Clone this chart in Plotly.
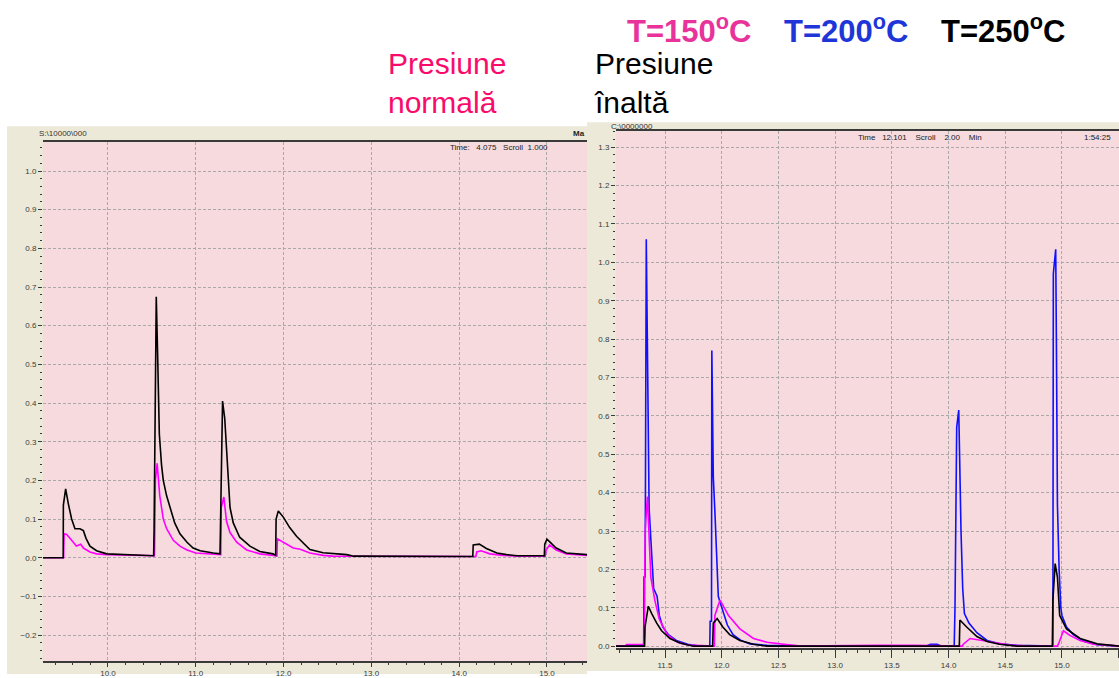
import plotly.graph_objects as go

W, H = 1119, 678

# ---- Presiune normală (left chromatogram): (time [min], signal) ----
normal_150 = [
    (9.26, 0), (9.495, 0), (9.5, 0.062), (9.53, 0.06), (9.586, 0.045), (9.64, 0.03),
    (9.69, 0.035), (9.72, 0.025), (9.795, 0.015), (9.87, 0.01), (9.985, 0.008),
    (10.3, 0.006), (10.53, 0.005), (10.54, 0.2), (10.56, 0.244), (10.59, 0.16),
    (10.63, 0.1), (10.668, 0.075), (10.744, 0.045), (10.82, 0.03), (10.9, 0.02),
    (11.0, 0.012), (11.2, 0.008), (11.285, 0.008), (11.29, 0.13), (11.32, 0.157),
    (11.35, 0.094), (11.39, 0.065), (11.466, 0.04), (11.58, 0.02), (11.73, 0.01),
    (11.88, 0.006), (11.925, 0.005), (11.93, 0.049), (11.997, 0.04), (12.11, 0.025),
    (12.19, 0.022), (12.3, 0.012), (12.45, 0.006), (12.56, 0.004), (14.19, 0.003),
    (14.2, 0.015), (14.25, 0.018), (14.35, 0.01), (14.5, 0.006), (14.66, 0.004),
    (14.98, 0.004), (14.99, 0.02), (15.03, 0.033), (15.105, 0.02), (15.22, 0.01),
    (15.375, 0.007), (15.456, 0.006),
]
normal_250 = [
    (9.26, 0), (9.49, 0), (9.492, 0.136), (9.518, 0.178), (9.548, 0.14), (9.586, 0.1),
    (9.624, 0.075), (9.68, 0.075), (9.72, 0.07), (9.75, 0.05), (9.795, 0.03),
    (9.87, 0.018), (9.985, 0.01), (10.2, 0.008), (10.4, 0.006), (10.52, 0.005),
    (10.525, 0.07), (10.55, 0.675), (10.565, 0.53), (10.585, 0.32), (10.61, 0.24),
    (10.63, 0.2), (10.668, 0.16), (10.706, 0.13), (10.76, 0.09), (10.82, 0.062),
    (10.9, 0.04), (10.97, 0.025), (11.05, 0.018), (11.2, 0.012), (11.276, 0.01),
    (11.28, 0.06), (11.305, 0.405), (11.33, 0.36), (11.355, 0.25), (11.37, 0.18),
    (11.39, 0.13), (11.427, 0.09), (11.5, 0.053), (11.617, 0.03), (11.73, 0.016),
    (11.88, 0.01), (11.91, 0.006), (11.915, 0.1), (11.94, 0.121), (11.997, 0.105),
    (12.07, 0.078), (12.15, 0.055), (12.19, 0.046), (12.3, 0.021), (12.45, 0.013),
    (12.72, 0.008), (12.8, 0.004), (13.5, 0.003), (14.155, 0.003), (14.16, 0.033),
    (14.23, 0.035), (14.31, 0.024), (14.43, 0.012), (14.54, 0.008), (14.66, 0.005),
    (14.97, 0.005), (14.975, 0.035), (15.0, 0.048), (15.05, 0.038), (15.105, 0.025),
    (15.22, 0.012), (15.375, 0.01), (15.456, 0.008),
]

# ---- Presiune înaltă (right chromatogram) ----
high_150 = [
    (11.068, 0), (11.15, 0), (11.16, 0.004), (11.30, 0.004), (11.31, 0.005),
    (11.318, 0.02), (11.325, 0.3), (11.345, 0.39), (11.36, 0.3), (11.375, 0.18),
    (11.41, 0.12), (11.45, 0.07), (11.52, 0.03), (11.61, 0.01), (11.7, 0.003),
    (11.85, 0), (11.935, 0), (11.94, 0.08), (11.985, 0.12), (12.06, 0.08),
    (12.16, 0.045), (12.28, 0.02), (12.4, 0.01), (12.57, 0.004), (12.7, 0),
    (13.37, 0.002), (13.7, 0.002), (14.12, 0), (14.13, 0.005), (14.19, 0.02),
    (14.3, 0.015), (14.42, 0.008), (14.54, 0.003), (14.7, 0), (14.96, 0),
    (14.975, 0.01), (15.013, 0.04), (15.07, 0.028), (15.16, 0.015), (15.28, 0.005),
    (15.4, 0.002), (15.503, 0),
]
high_200 = [
    (11.068, 0), (11.312, 0), (11.315, 0.18), (11.325, 0.18), (11.335, 1.06),
    (11.352, 0.55), (11.36, 0.36), (11.375, 0.28), (11.40, 0.15), (11.43, 0.13),
    (11.45, 0.08), (11.48, 0.05), (11.53, 0.03), (11.6, 0.015), (11.7, 0.005),
    (11.8, 0), (11.895, 0), (11.898, 0.065), (11.91, 0.065), (11.913, 0.77),
    (11.92, 0.6), (11.926, 0.44), (11.94, 0.35), (11.955, 0.25), (11.97, 0.13),
    (11.985, 0.115), (12.01, 0.09), (12.05, 0.055), (12.1, 0.03), (12.17, 0.015),
    (12.25, 0.006), (12.4, 0.002), (12.6, 0), (13.8, 0), (13.84, 0.005),
    (13.9, 0.005), (13.94, 0), (14.05, 0), (14.057, 0.1), (14.072, 0.57),
    (14.09, 0.615), (14.1, 0.44), (14.11, 0.3), (14.125, 0.15), (14.14, 0.085),
    (14.18, 0.06), (14.25, 0.035), (14.34, 0.015), (14.45, 0.006), (14.6, 0.002),
    (14.8, 0), (14.92, 0), (14.924, 0.97), (14.945, 1.034), (14.952, 0.75),
    (14.96, 0.37), (14.975, 0.2), (14.99, 0.1), (15.0, 0.08), (15.04, 0.05),
    (15.1, 0.03), (15.2, 0.012), (15.31, 0.004), (15.503, 0),
]
high_250 = [
    (11.068, 0), (11.32, 0), (11.324, 0.05), (11.353, 0.104), (11.383, 0.085),
    (11.427, 0.06), (11.47, 0.04), (11.544, 0.02), (11.632, 0.008), (11.75, 0),
    (11.92, 0), (11.926, 0.06), (11.96, 0.072), (12.01, 0.05), (12.07, 0.03),
    (12.16, 0.015), (12.28, 0.005), (12.4, 0), (14.095, 0), (14.1, 0.068),
    (14.16, 0.05), (14.25, 0.025), (14.34, 0.012), (14.45, 0.005), (14.6, 0),
    (14.915, 0), (14.92, 0.12), (14.94, 0.215), (14.96, 0.18), (14.98, 0.08),
    (15.04, 0.045), (15.16, 0.02), (15.31, 0.006), (15.503, 0),
]

COL_150 = "#ff00ff"
COL_200 = "#1010ff"
COL_250 = "#000000"
BEIGE = "#ece9d8"
PINK = "#f6dadd"
GRID = "#a9a9a9"
FONT = "Liberation Sans, Arial, sans-serif"


def px(x):
    return x / W


def py(y):
    return 1 - y / H


def add_series(fig, pts, color, xa, ya):
    t, v = zip(*pts)
    fig.add_trace(go.Scatter(x=list(t), y=list(v), mode="lines", xaxis=xa, yaxis=ya,
                             line=dict(color=color, width=1.6), hoverinfo="skip"))


fig = go.Figure()
add_series(fig, normal_150, COL_150, "x", "y")
add_series(fig, normal_250, COL_250, "x", "y")
add_series(fig, high_200, COL_200, "x2", "y2")
add_series(fig, high_150, COL_150, "x2", "y2")
add_series(fig, high_250, COL_250, "x2", "y2")

tickfont = dict(family=FONT, size=8, color="#3a3a3a")
common_x = dict(showline=True, linecolor="#3a3a3a", linewidth=1.5, mirror=True,
                ticks="outside", tickcolor="#3a3a3a", tickfont=tickfont,
                showgrid=True, gridcolor=GRID, griddash="3px,2px", gridwidth=1,
                zeroline=False, tickformat=".1f", fixedrange=True)
common_y = dict(showline=False, ticks="outside", ticklen=4, tickcolor="#3a3a3a",
                tickfont=tickfont, showgrid=True, gridcolor=GRID, griddash="3px,2px",
                gridwidth=1, zeroline=False, tickformat=".1f", dtick=0.1, tick0=0,
                minor=dict(dtick=0.02, ticks="outside", ticklen=2, tickcolor="#3a3a3a",
                           showgrid=False),
                fixedrange=True)

fig.update_layout(
    width=W, height=H, margin=dict(l=0, r=0, t=0, b=0),
    paper_bgcolor="white", plot_bgcolor="rgba(0,0,0,0)", showlegend=False,
    xaxis=dict(common_x, domain=[px(43), px(587)], range=[9.26, 15.456], anchor="y",
               dtick=1, tick0=10, ticklen=4,
               minor=dict(dtick=0.2, tick0=10, ticks="outside", ticklen=2,
                          tickcolor="#3a3a3a", showgrid=False)),
    yaxis=dict(common_y, domain=[py(665), py(143)], range=[-0.2673, 1.0746], anchor="x"),
    xaxis2=dict(common_x, domain=[px(616), 1.0], range=[11.068, 15.503], anchor="y2",
                dtick=0.5, tick0=11.5, ticklen=8,
                minor=dict(dtick=0.1, tick0=11.5, ticks="outside", ticklen=3,
                           tickcolor="#3a3a3a", showgrid=False)),
    yaxis2=dict(common_y, domain=[py(652), py(132)], range=[-0.0052, 1.3415], anchor="x2"),
)

# window frames of the two chromatogram views, then their pink plotting areas
fig.add_shape(type="rect", xref="paper", yref="paper", x0=px(7), x1=px(587),
              y0=0, y1=py(127), fillcolor=BEIGE, line_width=0, layer="below")
fig.add_shape(type="rect", xref="paper", yref="paper", x0=px(43), x1=px(587),
              y0=py(665), y1=py(143), fillcolor=PINK, line_width=0, layer="below")
fig.add_shape(type="rect", xref="paper", yref="paper", x0=px(587), x1=1,
              y0=py(675), y1=py(123), fillcolor=BEIGE, line_width=0, layer="below")
fig.add_shape(type="rect", xref="paper", yref="paper", x0=px(616), x1=1,
              y0=py(652), y1=py(132), fillcolor=PINK, line_width=0, layer="below")


def label(text, x, y, size, color, xanchor="left", yanchor="middle", weight="normal"):
    fig.add_annotation(text=text, x=px(x), y=py(y), xref="paper", yref="paper",
                       xanchor=xanchor, yanchor=yanchor, showarrow=False, align="left",
                       font=dict(family=FONT, size=size, color=color, weight=weight))


# legend of temperatures
label("T=150<sup>o</sup>C", 625, 29, 31, "#e8339b", weight="bold")
label("T=200<sup>o</sup>C", 782, 29, 31, "#1e36d8", weight="bold")
label("T=250<sup>o</sup>C", 939, 29, 31, "#000000", weight="bold")

# panel captions
label("Presiune<br>normală", 386, 83, 30, "#fa0a6a")
label("Presiune<br>înaltă", 592, 83, 30, "#000000")

# window header texts
label("S:\\10000\\000", 37, 134, 8, "#333333")
label("Ma", 571, 134, 8, "#222222", weight="bold")
label("Time:   4.075   Scroll  1.000", 448, 148, 8, "#222222")
label("C:\\0000000", 609, 127, 8, "#333333")
label("Time   12.101    Scroll    2.00    Min", 856, 138, 8, "#222222")
label("1:54:25", 1082, 138, 8, "#222222")

fig.write_html("out.html")
